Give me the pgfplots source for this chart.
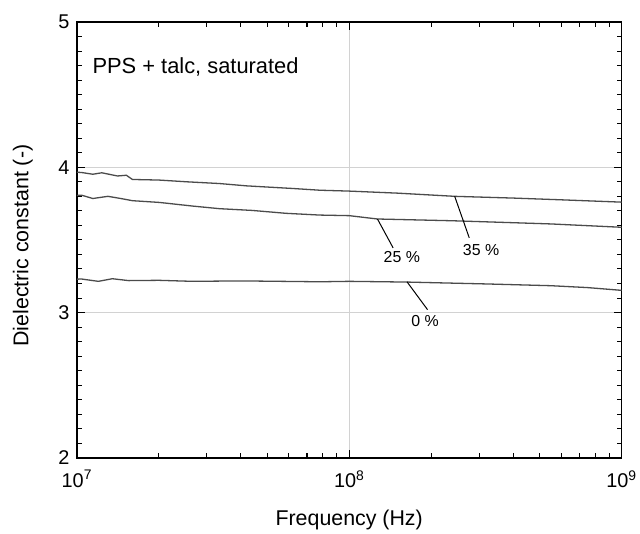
\documentclass[border=0pt]{standalone}
\usepackage{fontspec}
\setmainfont{Liberation Sans}
\usepackage{pgfplots}
\pgfplotsset{compat=1.18}
\definecolor{curve}{RGB}{75,75,75}
\begin{document}
\begin{tikzpicture}
\begin{axis}[
  at={(0,0)}, anchor=south west,
  scale only axis, width=546bp, height=437bp,
  xmode=log, xmin=1e7, xmax=1e9, ymin=2, ymax=5,
  xtick={1e7,1e8,1e9},
  xticklabels={10\textsuperscript{7},10\textsuperscript{8},10\textsuperscript{9}},
  ytick={2,3,4,5}, yticklabels={2,3,4,5},
  minor y tick num=9,
  xmajorgrids=true, ymajorgrids=true,
  major grid style={gray!35, line width=0.8bp},
  tickwidth=8bp, subtickwidth=5bp,
  xtick pos=both, ytick pos=both,
  xtick style={draw=black, line width=1bp},
  ytick style={draw=black, line width=1bp},
  axis line style={line width=1.6bp},
  tick label style={font=\fontsize{20}{23}\selectfont},
  xticklabel style={yshift=-9bp},
  yticklabel style={xshift=-4bp},
  label style={font=\fontsize{21.5}{24}\selectfont},
  xlabel={Frequency (Hz)}, ylabel={Dielectric constant (-)},
  xlabel style={at={(axis description cs:0.5,0)}, anchor=center, yshift=-62bp},
  ylabel style={at={(axis description cs:-0.099,0.487)}, anchor=center},
]
% 35 %
\addplot[curve, line width=1.3bp] coordinates {
(1.0e7,3.966) (1.04e7,3.964) (1.145e7,3.952) (1.235e7,3.962) (1.41e7,3.94) (1.52e7,3.945)
(1.6e7,3.916) (2.0e7,3.912) (2.53e7,3.90) (3.34e7,3.888) (4.2e7,3.872) (6.2e7,3.854)
(7.8e7,3.842) (1e8,3.836) (1.5e8,3.822) (2.44e8,3.80) (4e8,3.788) (6e8,3.776) (1e9,3.76)};
% 25 %
\addplot[curve, line width=1.3bp] coordinates {
(1.0e7,3.806) (1.04e7,3.808) (1.145e7,3.785) (1.3e7,3.80) (1.45e7,3.785) (1.6e7,3.77)
(2.01e7,3.758) (2.66e7,3.733) (3.34e7,3.715) (4.4e7,3.703) (5.87e7,3.683) (7.8e7,3.671)
(1e8,3.667) (1.27e8,3.644) (2.38e8,3.632) (3.5e8,3.622) (5.5e8,3.61) (1e9,3.587)};
% 0 %
\addplot[curve, line width=1.3bp] coordinates {
(1.0e7,3.23) (1.04e7,3.231) (1.2e7,3.215) (1.35e7,3.233) (1.55e7,3.22) (2.0e7,3.222)
(2.66e7,3.215) (4e7,3.218) (7.8e7,3.212) (1e8,3.215) (1.63e8,3.21) (3.2e8,3.197)
(5.5e8,3.185) (7.5e8,3.172) (1e9,3.153)};
% tick marks (inward), drawn explicitly with absolute axis coordinates
\pgfplotsinvokeforeach{2e7,3e7,4e7,5e7,6e7,7e7,8e7,9e7,2e8,3e8,4e8,5e8,6e8,7e8,8e8,9e8}{
  \draw[black, line width=1bp] (axis cs:#1,2) -- (axis cs:#1,2.035);
  \draw[black, line width=1bp] (axis cs:#1,5) -- (axis cs:#1,4.965);
}
\draw[black, line width=1bp] (axis cs:1e8,2) -- (axis cs:1e8,2.055);
\draw[black, line width=1bp] (axis cs:1e8,5) -- (axis cs:1e8,4.945);
\pgfplotsinvokeforeach{2.1,2.2,2.3,2.4,2.5,2.6,2.7,2.8,2.9,3.1,3.2,3.3,3.4,3.5,3.6,3.7,3.8,3.9,4.1,4.2,4.3,4.4,4.5,4.6,4.7,4.8,4.9}{
  \draw[black, line width=1bp] (axis cs:1e7,#1) -- (axis cs:1.043e7,#1);
  \draw[black, line width=1bp] (axis cs:1e9,#1) -- (axis cs:9.588e8,#1);
}
\pgfplotsinvokeforeach{3,4}{
  \draw[black, line width=1bp] (axis cs:1e7,#1) -- (axis cs:1.07e7,#1);
  \draw[black, line width=1bp] (axis cs:1e9,#1) -- (axis cs:9.35e8,#1);
}
\draw[black, line width=1bp] (axis cs:2.44e8,3.80) -- (axis cs:2.76e8,3.514);
\draw[black, line width=1bp] (axis cs:1.27e8,3.644) -- (axis cs:1.45e8,3.445);
\draw[black, line width=1bp] (axis cs:1.63e8,3.212) -- (axis cs:1.94e8,3.02);
\node[font=\fontsize{16}{19}\selectfont] at (axis cs:3.05e8,3.43) {35 \%};
\node[font=\fontsize{16}{19}\selectfont] at (axis cs:1.56e8,3.38) {25 \%};
\node[font=\fontsize{16}{19}\selectfont] at (axis cs:1.90e8,2.945) {0 \%};
\node[anchor=west, inner sep=0pt, font=\fontsize{22}{25}\selectfont] at (axis cs:1.14e7,4.69) {PPS + talc, saturated};
\end{axis}
\path (-77bp,-75bp) rectangle (563bp,459bp);
\end{tikzpicture}
\end{document}
